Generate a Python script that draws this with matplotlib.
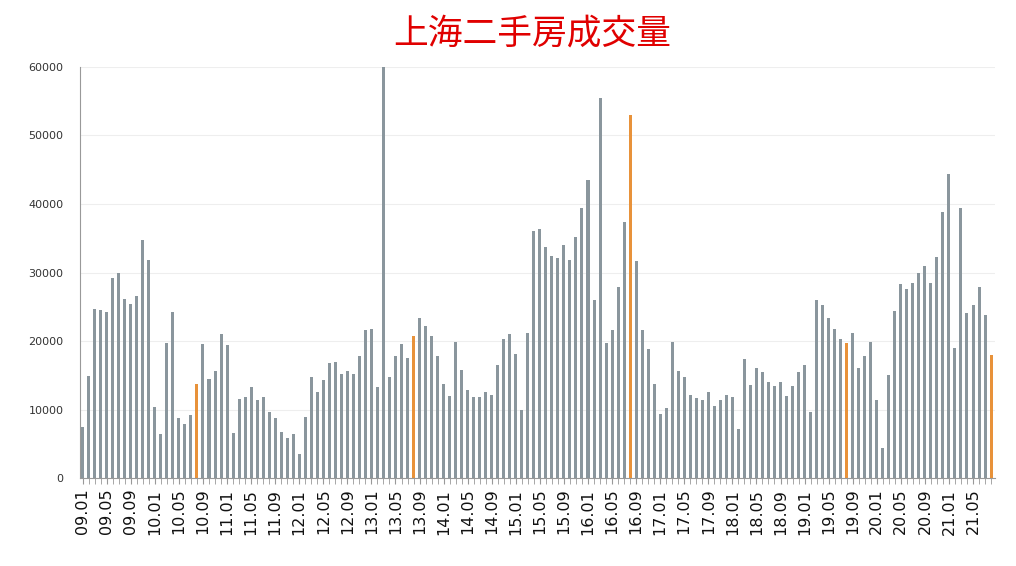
import matplotlib.pyplot as plt
from matplotlib import font_manager
import numpy as np

# monthly volume 2009.01 - 2021.08
vol_2009 = [7490, 14890, 24720, 24520, 24230, 29200, 29970, 26080, 25400, 26570, 34740, 31820]
vol_2010 = [10410, 6420, 19760, 24230, 8760, 7880, 9250, 13720, 19560, 14500, 15570, 21020]
vol_2011 = [19370, 6620, 11580, 11780, 13240, 11480, 11780, 9630, 8860, 6810, 5840, 6420]
vol_2012 = [3500, 8950, 14700, 12550, 14400, 16740, 16930, 15180, 15570, 15180, 17810, 21600]
vol_2013 = [21700, 13240, 60000, 14790, 17900, 19560, 17520, 20730, 23360, 22190, 20730, 17810]
vol_2014 = [13720, 11970, 19850, 15860, 12850, 11780, 11780, 12550, 12070, 16450, 20340, 21020]
vol_2015 = [18100, 9930, 21120, 36100, 36400, 33670, 32410, 32120, 33960, 31820, 35130, 39410]
vol_2016 = [43500, 25980, 55470, 19660, 21600, 27930, 37370, 52940, 31630, 21600, 18780, 13720]
vol_2017 = [9340, 10220, 19850, 15570, 14700, 12070, 11680, 11480, 12550, 10610, 11480, 12070]
vol_2018 = [11780, 7200, 17320, 13530, 16150, 15470, 14010, 13430, 14010, 11970, 13430, 15470]
vol_2019 = [16450, 9730, 25980, 25210, 23360, 21800, 20340, 19760, 21120, 16060, 17810, 19850]
vol_2020 = [11390, 4480, 15080, 24330, 28320, 27540, 28420, 29980, 30950, 28420, 32210, 38830]
vol_2021 = [44380, 18980, 39410, 24040, 25210, 27830, 23750, 18000]

values = (vol_2009 + vol_2010 + vol_2011 + vol_2012 + vol_2013 + vol_2014 + vol_2015
          + vol_2016 + vol_2017 + vol_2018 + vol_2019 + vol_2020 + vol_2021)
months = [f"{9 + i // 12:02d}.{i % 12 + 1:02d}" for i in range(len(values))]
highlight = ["10.08", "13.08", "16.08", "19.08", "21.08"]

GREY = "#8a969d"
ORANGE = "#e8923a"

# find an installed sans CJK font for the title
cands = [f for f in font_manager.fontManager.ttflist if "Sans CJK" in f.name]
cands.sort(key=lambda f: (0 if f.name.endswith("SC") else 1, abs(f.weight - 400) if isinstance(f.weight, int) else 0))
title_font = font_manager.FontProperties(fname=cands[0].fname, size=25) if cands else None

fig = plt.figure(figsize=(10.16, 5.66), dpi=100)
ax = fig.add_axes([0.079, 0.155, 0.900, 0.727])

x = np.arange(len(values))
colors = [ORANGE if m in highlight else GREY for m in months]
ax.bar(x, values, width=0.5, color=colors, zorder=2)

ax.set_xlim(-0.4, len(values) - 0.4)
ax.set_ylim(0, 60000)
ax.set_yticks(range(0, 60001, 10000))
ax.tick_params(axis="y", length=0, labelsize=8, colors="#333333", pad=12)
ax.grid(axis="y", color="#eeeeee", linewidth=0.8, zorder=0)

ax.set_xticks(x[::4])
ax.set_xticklabels(months[::4], rotation=90, fontsize=11.5, color="#111111")
ax.set_xticks(x, minor=True)
ax.tick_params(axis="x", which="both", length=4, color="#999999", direction="out")
for s in ["top", "right"]:
    ax.spines[s].set_visible(False)
ax.spines["left"].set_color("#999999")
ax.spines["bottom"].set_color("#999999")

fig.text(0.524, 0.94, "上海二手房成交量", ha="center", va="center",
         fontproperties=title_font, color="#e00000")

fig.savefig("out.png", dpi=100)
